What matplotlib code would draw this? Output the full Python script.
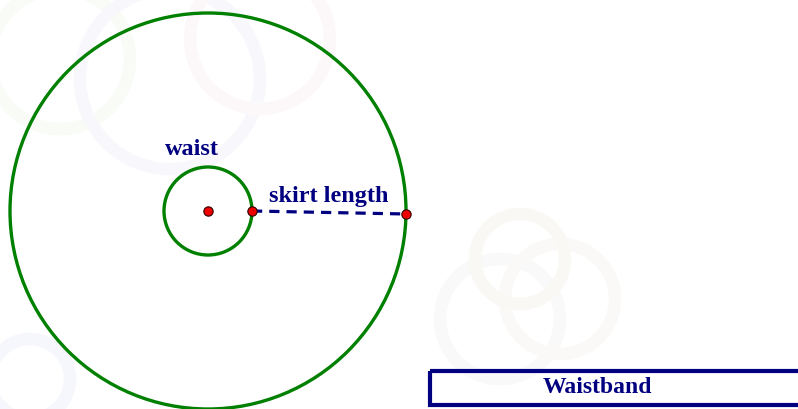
import matplotlib.pyplot as plt
from matplotlib.patches import Circle, Rectangle

# geometry in pixel units (y grows downward)
center = (208, 212)
waist_r = 44
outer_r = 198
points_x = [208, 252, 406]
points_y = [212, 212, 215]
dash_x = [252, 406]
dash_y = [212, 215]
band = (430, 372, 380, 34)

green = '#008000'
navy = '#000080'
serif = ['Liberation Serif', 'DejaVu Serif']

fig = plt.figure(figsize=(7.98, 4.10), dpi=100)
ax = fig.add_axes([0, 0, 1, 1])
ax.set_xlim(0, 798)
ax.set_ylim(410, 0)
ax.axis('off')

# faint background watermark rings
for (cx, cy, r, c) in [(60, 60, 70, '#f8fbf6'), (170, 80, 90, '#f8f8fc'),
                       (260, 40, 70, '#fcf8fa'), (500, 320, 60, '#f9f9f9'),
                       (560, 300, 55, '#faf9f7'), (520, 260, 45, '#f9f8f4'),
                       (30, 380, 40, '#f6f7fc')]:
    ax.add_patch(Circle((cx, cy), r, fill=False, ec=c, lw=9, zorder=0))

ax.add_patch(Circle(center, outer_r, fill=False, ec=green, lw=2.4, zorder=2))
ax.add_patch(Circle(center, waist_r, fill=False, ec=green, lw=2.4, zorder=2))

ax.plot(dash_x, dash_y, color=navy, lw=2.3, ls=(0, (3.2, 2.2)), zorder=3)
ax.scatter(points_x, points_y, s=45, c='#ee0000', edgecolors='#300000',
           linewidths=0.8, zorder=4)

ax.text(192, 150, 'waist', color=navy, fontsize=17.5, fontweight='bold',
        family=serif, ha='center', va='center')
ax.text(329, 197, 'skirt length', color=navy, fontsize=17.5, fontweight='bold',
        family=serif, ha='center', va='center')

ax.add_patch(Rectangle(band[:2], band[2], band[3], fill=False, ec=navy,
                       lw=3, zorder=2))
ax.text(597, 388, 'Waistband', color=navy, fontsize=17, fontweight='bold',
        family=serif, ha='center', va='center')

fig.savefig('out.png', dpi=100)
